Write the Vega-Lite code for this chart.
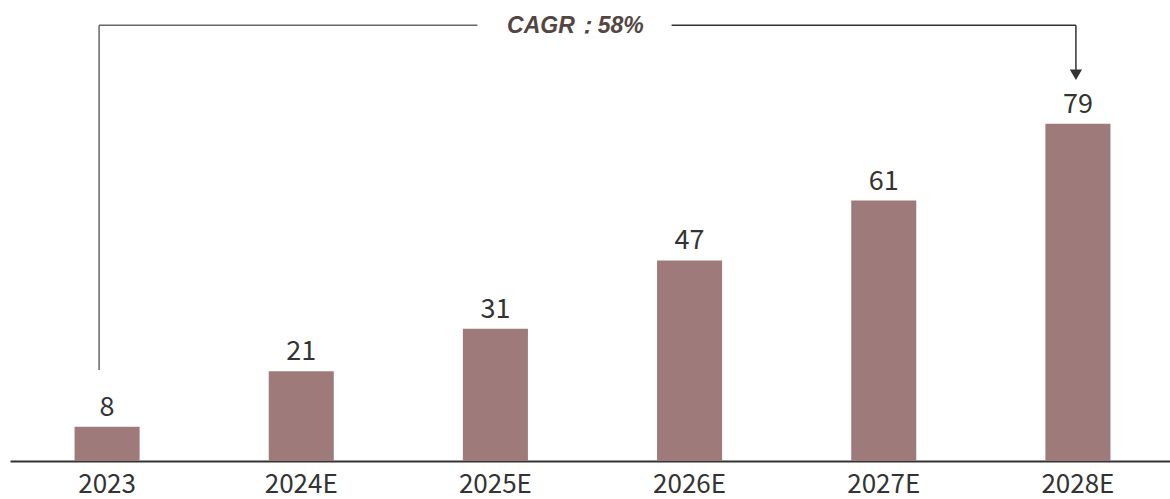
{
  "$schema": "https://vega.github.io/schema/vega-lite/v6.json",
  "autosize": "none",
  "padding": {"left": 10, "top": 0, "right": 0, "bottom": 38},
  "width": 1165,
  "height": 461,
  "background": "white",
  "config": {
    "view": {"stroke": null},
    "font": "Noto Sans CJK SC",
    "axisX": {"domainColor": "#333333", "domainWidth": 2, "ticks": false, "labelAngle": 0,
      "labelFont": "Noto Sans CJK SC", "labelFontSize": 26, "labelColor": "#333333", "labelPadding": 10}
  },
  "data": {"values": [
    {"year": "2023", "value": 8},
    {"year": "2024E", "value": 21},
    {"year": "2025E", "value": 31},
    {"year": "2026E", "value": 47},
    {"year": "2027E", "value": 61},
    {"year": "2028E", "value": 79}
  ]},
  "encoding": {
    "x": {"field": "year", "type": "nominal", "sort": null,
      "scale": {"paddingInner": 0.665, "paddingOuter": 0.3325},
      "axis": {"title": null}}
  },
  "layer": [
    {
      "mark": {"type": "bar", "color": "#9e7b7a"},
      "encoding": {
        "y": {"field": "value", "type": "quantitative", "scale": {"domain": [0, 108], "nice": false}, "axis": null}
      }
    },
    {
      "mark": {"type": "text", "fontSize": 27, "color": "#333333", "baseline": "alphabetic", "dy": -11, "font": "Noto Sans CJK SC"},
      "encoding": {
        "y": {"field": "value", "type": "quantitative"},
        "text": {"field": "value", "type": "quantitative"}
      }
    },
    {
      "data": {"values": [{"from": "2023", "to": "2025E", "y": 102.1}]},
      "mark": {"type": "rule", "color": "#666666", "strokeWidth": 1.5, "xOffset": -8, "x2Offset": -18},
      "encoding": {"x": {"field": "from", "type": "nominal"}, "x2": {"field": "to"}, "y": {"field": "y", "type": "quantitative"}}
    },
    {
      "data": {"values": [{"from": "2023", "y": 21.3, "y2": 102.1}]},
      "mark": {"type": "rule", "color": "#666666", "strokeWidth": 1.5, "xOffset": -8},
      "encoding": {"x": {"field": "from", "type": "nominal"}, "y": {"field": "y", "type": "quantitative"}, "y2": {"field": "y2"}}
    },
    {
      "data": {"values": [{"from": "2026E", "to": "2028E", "y": 102.1}]},
      "mark": {"type": "rule", "color": "#333333", "strokeWidth": 1.5, "xOffset": -18, "x2Offset": -2},
      "encoding": {"x": {"field": "from", "type": "nominal"}, "x2": {"field": "to"}, "y": {"field": "y", "type": "quantitative"}}
    },
    {
      "data": {"values": [{"to": "2028E", "y": 91.5, "y2": 102.1}]},
      "mark": {"type": "rule", "color": "#333333", "strokeWidth": 1.5, "xOffset": -2},
      "encoding": {"x": {"field": "to", "type": "nominal"}, "y": {"field": "y", "type": "quantitative"}, "y2": {"field": "y2"}}
    },
    {
      "data": {"values": [{"to": "2028E", "y": 90.5}]},
      "mark": {"type": "point", "shape": "triangle-down", "filled": true, "color": "#333333", "opacity": 1, "size": 150, "xOffset": -2},
      "encoding": {"x": {"field": "to", "type": "nominal"}, "y": {"field": "y", "type": "quantitative"}}
    },
    {
      "data": {"values": [{"at": "2025E", "y": 102.1, "label": "CAGR：58%"}]},
      "mark": {"type": "text", "fontSize": 23, "fontStyle": "italic", "fontWeight": "bold", "font": "Liberation Sans", "color": "#544542", "align": "center", "baseline": "middle", "dx": 80, "dy": 1},
      "encoding": {"x": {"field": "at", "type": "nominal"}, "y": {"field": "y", "type": "quantitative"}, "text": {"field": "label"}}
    }
  ]
}
